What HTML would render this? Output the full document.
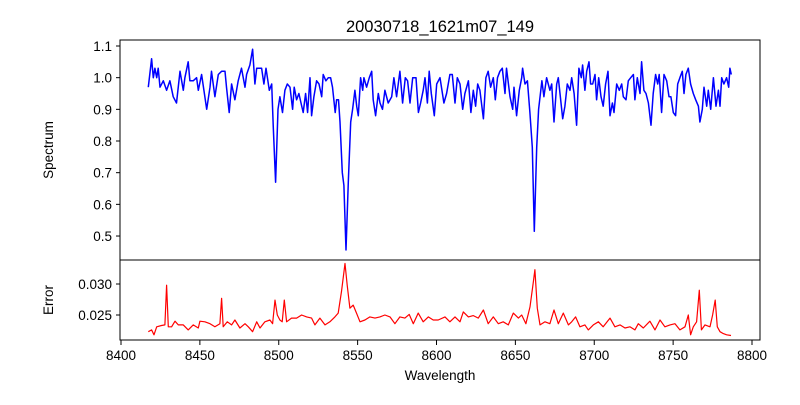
<!DOCTYPE html>
<html><head><meta charset="utf-8"><style>
body{margin:0;background:#fff}
svg text{font-family:"Liberation Sans","DejaVu Sans",sans-serif;fill:#000}
</style></head><body>
<svg id="chart" width="800" height="400" xmlns="http://www.w3.org/2000/svg">
<rect width="800" height="400" fill="#fff"/>
<text x="440" y="32" font-size="16.5" text-anchor="middle">20030718_1621m07_149</text>
<g id="topPanel"></g>
<g id="botPanel"></g>
<text transform="translate(53,150) rotate(-90)" font-size="13.5" text-anchor="middle">Spectrum</text>
<text transform="translate(53,300) rotate(-90)" font-size="13.5" text-anchor="middle">Error</text>
<text x="440" y="380" font-size="13.5" text-anchor="middle">Wavelength</text>
</svg>
<script>
const specWave=[8417.3,8419.4,8420.5,8421.5,8422.6,8423.6,8424.7,8426.8,8428.9,8431.0,8433.1,8435.2,8437.4,8439.5,8440.5,8442.6,8443.7,8445.8,8447.9,8449.0,8451.1,8454.3,8456.4,8457.4,8459.5,8461.7,8463.8,8465.9,8466.9,8468.6,8470.1,8472.2,8474.3,8476.4,8478.6,8479.6,8481.7,8483.4,8484.9,8486.0,8489.1,8490.6,8491.9,8494.0,8495.5,8496.5,8498.0,8499.5,8500.7,8502.4,8503.9,8505.4,8507.1,8508.8,8509.8,8511.3,8512.8,8514.1,8515.5,8517.0,8518.3,8519.8,8520.8,8522.3,8524.0,8525.5,8527.2,8528.2,8529.9,8531.4,8532.9,8534.1,8535.8,8536.7,8537.9,8538.8,8540.3,8541.3,8542.6,8544.1,8545.6,8546.8,8548.3,8549.4,8550.4,8551.9,8553.2,8554.0,8555.7,8557.4,8558.9,8559.9,8561.4,8563.1,8564.2,8565.8,8567.3,8569.4,8571.6,8573.0,8574.7,8576.8,8578.5,8580.2,8581.7,8583.2,8584.9,8587.0,8588.5,8589.9,8591.6,8592.7,8594.2,8595.4,8596.7,8598.6,8600.1,8602.2,8604.7,8606.4,8608.5,8610.0,8611.7,8613.2,8614.9,8616.6,8618.0,8620.2,8621.8,8623.3,8624.8,8626.1,8627.5,8629.7,8631.3,8632.8,8634.3,8636.0,8637.3,8638.7,8640.2,8641.7,8643.4,8644.4,8646.6,8648.3,8649.1,8650.8,8652.5,8654.0,8654.6,8656.1,8657.6,8659.2,8660.7,8662.0,8663.5,8664.7,8666.8,8668.1,8669.8,8671.9,8673.0,8674.5,8676.2,8677.2,8678.3,8680.0,8681.4,8682.9,8684.6,8685.7,8687.2,8688.8,8690.3,8691.8,8692.6,8694.1,8695.2,8696.7,8697.7,8699.0,8700.5,8701.5,8702.8,8704.3,8705.7,8707.2,8708.7,8710.0,8711.5,8712.5,8714.2,8715.9,8717.4,8718.4,8720.1,8721.6,8723.1,8724.8,8725.8,8727.3,8729.0,8730.0,8731.5,8732.8,8734.3,8736.0,8737.4,8738.9,8740.2,8741.2,8742.7,8744.2,8745.9,8747.4,8748.6,8750.1,8751.6,8752.9,8754.3,8755.8,8756.9,8758.1,8759.6,8761.1,8762.8,8764.3,8766.0,8767.0,8768.5,8769.6,8771.3,8772.3,8773.8,8775.5,8777.2,8778.7,8779.7,8780.8,8782.2,8783.9,8785.2,8786.0,8786.9];
const specFlux=[0.97,1.06,1.00,1.03,1.00,1.03,0.97,0.99,0.96,0.99,0.94,0.92,1.02,0.96,1.00,1.05,0.99,0.99,1.00,0.96,1.01,0.90,0.97,1.02,0.94,1.01,1.02,1.02,0.97,0.89,0.98,0.93,0.99,1.03,0.97,1.01,1.04,1.09,0.98,1.03,1.03,0.98,1.03,0.96,0.98,0.85,0.67,0.90,0.94,0.89,0.96,0.98,0.97,0.90,0.97,0.93,0.95,0.92,0.89,0.95,0.89,1.00,0.88,0.94,0.99,0.98,0.94,1.01,0.99,1.00,1.00,0.97,0.89,0.93,0.93,0.86,0.70,0.66,0.456,0.67,0.86,0.90,0.96,0.91,0.88,1.00,0.96,1.00,0.97,1.00,1.02,0.93,0.88,0.95,0.92,0.90,0.96,0.92,0.94,1.00,0.94,1.02,0.92,1.00,0.99,0.92,1.00,1.00,0.89,0.92,0.96,1.00,0.92,1.02,0.95,0.88,0.98,1.00,0.92,0.95,1.01,1.01,0.92,1.00,0.98,0.90,0.95,0.99,0.89,0.96,0.91,0.98,0.96,0.87,1.00,1.02,0.97,1.00,0.93,1.00,1.02,1.03,0.95,1.03,0.94,0.90,0.97,0.88,0.96,1.00,1.03,0.98,0.99,0.89,0.78,0.515,0.78,0.90,0.99,0.94,1.00,0.96,0.98,0.86,0.98,1.00,0.95,0.87,0.91,0.98,0.96,1.00,0.95,0.85,1.03,1.00,1.04,0.96,1.02,1.05,0.98,0.98,1.01,0.93,1.00,0.94,0.91,0.98,1.02,0.88,0.92,0.89,0.98,0.96,0.98,0.94,0.93,0.99,1.00,1.01,0.93,1.00,0.95,1.05,0.96,0.95,0.92,0.85,0.95,1.01,0.98,1.01,0.89,1.01,0.99,0.94,0.94,0.89,0.88,0.98,1.00,1.02,0.95,1.01,1.03,0.98,0.95,0.93,0.91,0.86,0.90,0.97,0.91,0.96,0.90,1.00,0.91,0.96,0.91,1.00,0.98,1.00,0.97,1.03,1.01];
const errWave=[8417.3,8419.4,8420.9,8422.6,8425.7,8427.8,8428.9,8430.0,8432.1,8434.2,8436.3,8439.5,8442.6,8445.8,8449.0,8450.0,8453.2,8456.4,8459.5,8462.7,8463.8,8464.8,8467.4,8470.1,8472.2,8475.4,8478.6,8480.7,8483.4,8486.0,8488.1,8491.2,8494.4,8496.1,8497.6,8499.1,8500.7,8502.2,8503.5,8505.0,8508.1,8511.3,8514.5,8517.7,8520.8,8522.9,8526.1,8529.3,8532.4,8535.6,8537.7,8539.8,8542.0,8543.4,8545.1,8547.2,8549.3,8551.5,8554.6,8557.8,8561.0,8564.1,8567.3,8570.5,8573.6,8576.8,8580.0,8582.7,8585.3,8588.4,8591.6,8594.8,8597.9,8601.1,8605.4,8608.5,8611.7,8614.9,8617.0,8620.2,8623.3,8626.5,8629.7,8632.8,8636.0,8639.2,8642.3,8645.5,8648.7,8651.9,8654.0,8656.7,8659.3,8661.4,8662.4,8663.9,8665.6,8668.8,8671.9,8674.5,8677.2,8680.4,8683.6,8685.7,8688.2,8690.9,8694.1,8696.2,8699.4,8702.6,8705.7,8710.0,8713.1,8716.3,8719.5,8722.6,8725.8,8727.9,8731.1,8735.3,8738.5,8741.7,8744.8,8748.0,8751.2,8754.3,8757.5,8759.6,8761.1,8762.8,8764.9,8766.6,8767.9,8770.2,8773.4,8775.0,8776.7,8778.0,8779.7,8781.8,8783.9,8786.7];
const errVal=[0.0223,0.0226,0.0218,0.0231,0.0233,0.0234,0.0298,0.0231,0.0231,0.0240,0.0234,0.0234,0.0226,0.0234,0.0229,0.0240,0.0239,0.0236,0.0231,0.0236,0.0277,0.0231,0.0239,0.0234,0.0242,0.0229,0.0236,0.0231,0.0223,0.0239,0.0229,0.0239,0.0242,0.0236,0.0274,0.0250,0.0242,0.0239,0.0274,0.0239,0.0245,0.0245,0.0250,0.0247,0.0245,0.0234,0.0245,0.0234,0.0239,0.0247,0.0253,0.0288,0.0333,0.0298,0.0261,0.0266,0.0253,0.0239,0.0242,0.0247,0.0245,0.0247,0.0250,0.0247,0.0236,0.0247,0.0245,0.0251,0.0236,0.0253,0.0239,0.0247,0.0242,0.0242,0.0247,0.0239,0.0247,0.0239,0.0255,0.0247,0.0249,0.0245,0.0258,0.0236,0.0247,0.0236,0.0239,0.0234,0.0253,0.0245,0.0250,0.0236,0.0263,0.0304,0.0323,0.0261,0.0234,0.0239,0.0236,0.0258,0.0236,0.0253,0.0234,0.0239,0.0247,0.0231,0.0234,0.0226,0.0234,0.0239,0.0231,0.0245,0.0231,0.0234,0.0229,0.0231,0.0226,0.0236,0.0229,0.0240,0.0226,0.0242,0.0231,0.0234,0.0236,0.0226,0.0231,0.0250,0.0218,0.0231,0.0239,0.0290,0.0226,0.0234,0.0231,0.0250,0.0274,0.0231,0.0223,0.0220,0.0218,0.0217];
const xTicks=[8400,8450,8500,8550,8600,8650,8700,8750,8800];
const topTicks=[0.5,0.6,0.7,0.8,0.9,1.0,1.1];
const botTicks=[0.025,0.030];

const NS="http://www.w3.org/2000/svg";
const X=w=>121+(w-8400)*1.5775;
const YT=v=>46+(1.1-v)*316.7;
const YB=v=>284+(0.030-v)*6200;
function mk(tag,attrs,parent){const e=document.createElementNS(NS,tag);for(const k in attrs)e.setAttribute(k,attrs[k]);parent.appendChild(e);return e;}
const topG=document.getElementById('topPanel'),botG=document.getElementById('botPanel');

const sp=mk('polyline',{points:specWave.map((w,i)=>X(w).toFixed(1)+','+YT(specFlux[i]).toFixed(1)).join(' '),fill:'none',stroke:'#0000ff','stroke-width':1.5,'stroke-linejoin':'round'},topG);


const er=mk('polyline',{points:errWave.map((w,i)=>X(w).toFixed(1)+','+YB(errVal[i]).toFixed(1)).join(' '),fill:'none',stroke:'#ff0000','stroke-width':1.2,'stroke-linejoin':'round'},botG);



const f1=mk('rect',{x:120,y:40,width:640,height:220,fill:'none',stroke:'#000','stroke-width':1},topG);


const f2=mk('rect',{x:120,y:260,width:640,height:80,fill:'none',stroke:'#000','stroke-width':1},botG);



topTicks.forEach(v=>{const y=YT(v);
 const t=mk('line',{x1:116,x2:120,y1:y,y2:y,stroke:'#000'},topG);
 
 
 const l=mk('text',{x:112,y:y+5,'font-size':13.5,'text-anchor':'end'},topG);l.textContent=v.toFixed(1);
 
 });
botTicks.forEach(v=>{const y=YB(v);
 const t=mk('line',{x1:116,x2:120,y1:y,y2:y,stroke:'#000'},botG);
 
 
 const l=mk('text',{x:112,y:y+5,'font-size':13.5,'text-anchor':'end'},botG);l.textContent=v.toFixed(3);
 
 });
xTicks.forEach(w=>{const x=X(w);
 const t=mk('line',{x1:x,x2:x,y1:340,y2:345,stroke:'#000'},botG);
 
 
 const l=mk('text',{x:x,y:360,'font-size':13.5,'text-anchor':'middle'},botG);l.textContent=w;
 
 });
</script>
</body></html>
